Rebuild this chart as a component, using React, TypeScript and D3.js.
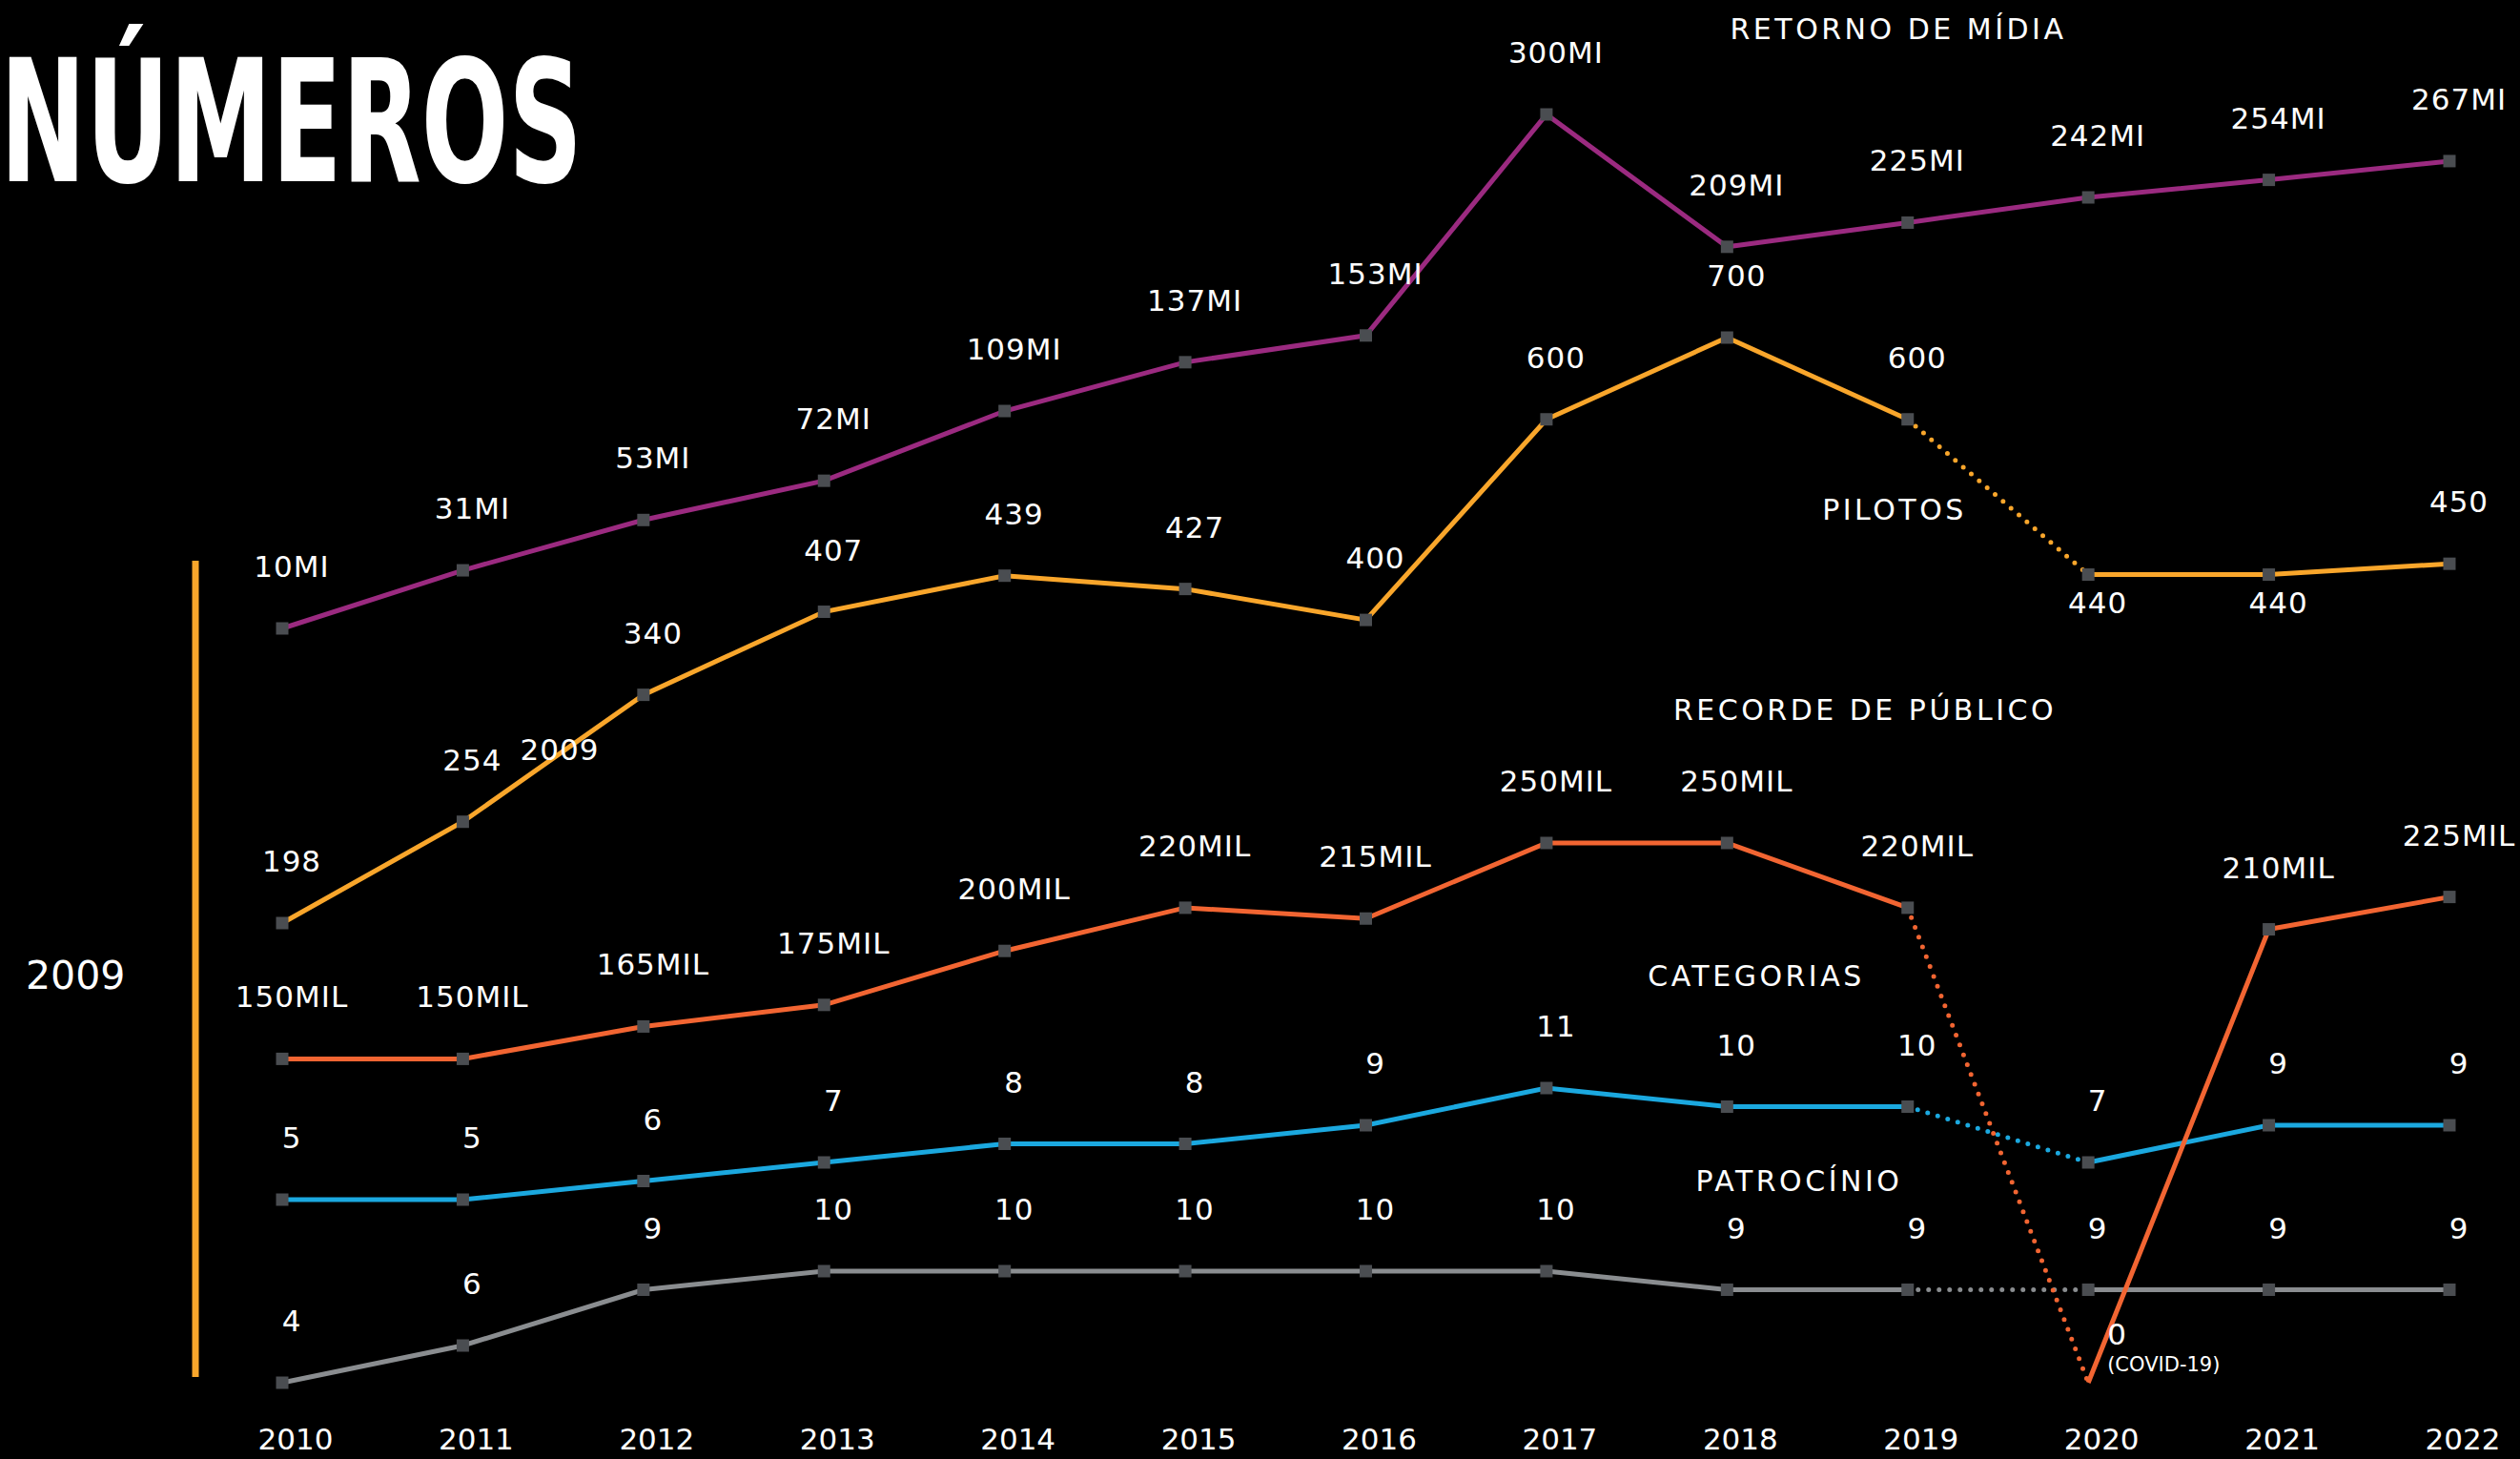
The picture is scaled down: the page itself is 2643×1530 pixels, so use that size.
import * as d3 from "d3";

const years = ["2010", "2011", "2012", "2013", "2014", "2015", "2016", "2017", "2018", "2019", "2020", "2021", "2022"];
const retorno = [10, 31, 53, 72, 109, 137, 153, 300, 209, 225, 242, 254, 267];
const pilotos = [198, 254, 340, 407, 439, 427, 400, 600, 700, 600, 440, 440, 450];
const recorde = [150, 150, 165, 175, 200, 220, 215, 250, 250, 220, 0, 210, 225];
const categorias = [5, 5, 6, 7, 8, 8, 9, 11, 10, 10, 7, 9, 9];
const patrocinio = [4, 6, 9, 10, 10, 10, 10, 10, 9, 9, 9, 9, 9];
const seriesNames = ["RETORNO DE MÍDIA", "PILOTOS", "RECORDE DE PÚBLICO", "CATEGORIAS", "PATROCÍNIO"];
const covidYear = "2020";
const firstYear = "2009";

const width = 2643;
const height = 1530;
const font = "'DejaVu Sans', 'Open Sans', sans-serif";
const markerColor = "#4a4d51";

// x positions of the years
const x = d3.scalePoint().domain(years).range([296, 2569]);

// each series sits in its own band of the page
const series = [
  {
    name: "patrocinio",
    values: patrocinio,
    color: "#8a8d90",
    y: d3.scaleLinear().domain([4, 10]).range([1450, 1333]),
    fmt: (v) => `${v}`,
    covid: true,
    below: [],
  },
  {
    name: "categorias",
    values: categorias,
    color: "#1ba8df",
    y: d3.scaleLinear().domain([5, 11]).range([1258, 1141]),
    fmt: (v) => `${v}`,
    covid: true,
    below: [],
  },
  {
    name: "pilotos",
    values: pilotos,
    color: "#f9a62b",
    y: d3.scalePow().exponent(0.25).domain([198, 700]).range([968, 354]),
    fmt: (v) => `${v}`,
    covid: true,
    below: ["2020", "2021"],
  },
  {
    name: "retorno",
    values: retorno,
    color: "#9b2a80",
    y: d3.scalePow().exponent(0.75).domain([10, 300]).range([659, 120]),
    fmt: (v) => `${v}MI`,
    covid: false,
    below: [],
  },
  {
    name: "recorde",
    values: recorde,
    color: "#f26532",
    y: d3.scaleLinear().domain([0, 250]).range([1450, 884]),
    fmt: (v) => (v === 0 ? "" : `${v}MIL`),
    covid: true,
    below: [],
  },
];

// where the series titles go
const nameSpots = [
  { cx: 1991, y: 41 },
  { cx: 1987, y: 545 },
  { cx: 1956, y: 755 },
  { cx: 1842, y: 1034 },
  { cx: 1887, y: 1249 },
];

function Series({ s }) {
  const pts = s.values.map((v, i) => [x(years[i]), s.y(v)]);
  const line = d3.line();
  const k = years.indexOf(covidYear);

  let solid = [];
  let dotted = [];
  if (s.covid) {
    solid = [pts.slice(0, k), pts.slice(k)];
    dotted = [pts.slice(k - 1, k + 1)];
  } else {
    solid = [pts];
  }

  return (
    <g>
      {solid.map((p, i) => (
        <path key={"s" + i} d={line(p)} fill="none" stroke={s.color} strokeWidth={5} />
      ))}
      {dotted.map((p, i) => (
        <path
          key={"d" + i}
          d={line(p)}
          fill="none"
          stroke={s.color}
          strokeWidth={5}
          strokeDasharray="0 11"
          strokeLinecap="round"
        />
      ))}
      {pts.map((p, i) =>
        s.values[i] === 0 ? null : (
          <rect key={"m" + i} x={p[0] - 6.5} y={p[1] - 6.5} width={13} height={13} fill={markerColor} />
        )
      )}
    </g>
  );
}

function Labels({ s }) {
  return (
    <g>
      {s.values.map((v, i) => {
        const px = x(years[i]);
        const py = s.y(v);
        if (v === 0) {
          return (
            <g key={i}>
              <text x={px + 20} y={py - 40} fontSize={31} fill="#fff">
                {v}
              </text>
              <text x={px + 20} y={py - 12} fontSize={21} fill="#fff">
                (COVID-19)
              </text>
            </g>
          );
        }
        const isBelow = s.below.includes(years[i]);
        return (
          <text
            key={i}
            x={px + 10}
            y={isBelow ? py + 40 : py - 54}
            fontSize={31}
            letterSpacing={1}
            textAnchor="middle"
            fill="#fff"
          >
            {s.fmt(v)}
          </text>
        );
      })}
    </g>
  );
}

export default function App() {
  return (
    <svg
      width={width}
      height={height}
      style={{ position: "absolute", left: 0, top: 0, background: "#000", display: "block" }}
      fontFamily={font}
    >
      <rect width={width} height={height} fill="#000" />

      <text
        x={0}
        y={190}
        fontSize={178}
        fontWeight="bold"
        fill="#fff"
        fontFamily="'Liberation Sans Narrow', 'DejaVu Sans Condensed', 'DejaVu Sans', sans-serif"
        textLength={611}
        lengthAdjust="spacingAndGlyphs"
      >
        NÚMEROS
      </text>

      {/* 2009 marker on the left */}
      <line x1={205} x2={205} y1={588} y2={1444} stroke="#f9a62b" strokeWidth={7} />
      <text x={27} y={1037} fontSize={41} fill="#fff">
        {firstYear}
      </text>

      {series.map((s) => (
        <Series key={s.name} s={s} />
      ))}
      {series.map((s) => (
        <Labels key={s.name} s={s} />
      ))}

      <text x={587} y={797} fontSize={31} letterSpacing={1} textAnchor="middle" fill="#fff">
        {firstYear}
      </text>

      {seriesNames.map((n, i) => (
        <text
          key={n}
          x={nameSpots[i].cx}
          y={nameSpots[i].y}
          fontSize={30}
          letterSpacing={3.5}
          textAnchor="middle"
          fill="#fff"
        >
          {n}
        </text>
      ))}

      {years.map((yr) => (
        <text key={yr} x={x(yr) + 14} y={1520} fontSize={31} textAnchor="middle" fill="#fff">
          {yr}
        </text>
      ))}
    </svg>
  );
}
